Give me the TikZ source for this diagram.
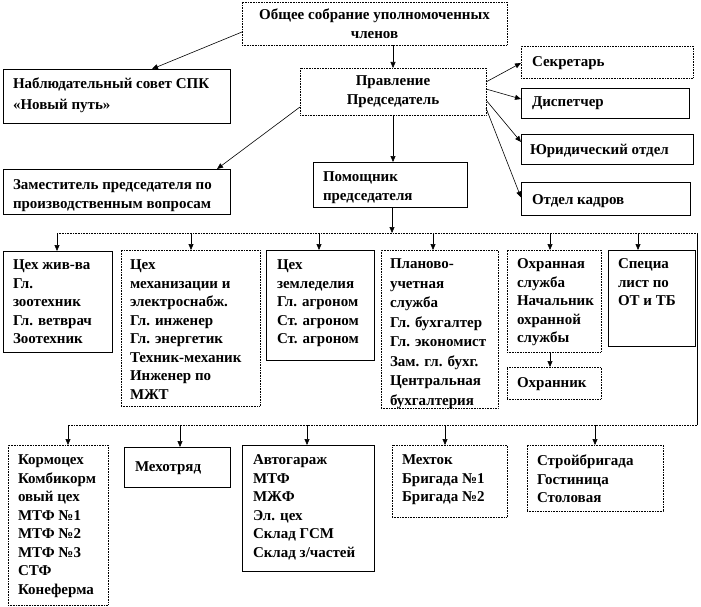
\documentclass[tikz,border=0pt]{standalone}
\usepackage{fontspec}
\setmainfont{Liberation Serif}
\usetikzlibrary{arrows.meta,calc}
\tikzset{
  bx/.style={draw=black, line width=0.6pt, inner sep=0pt, outer sep=0pt},
  dbx/.style={bx, densely dotted},
  txt/.style={inner sep=0pt, outer sep=0pt, align=left, anchor=north west, font=\fontsize{15}{18.5}\selectfont\bfseries},
  ctxt/.style={align=center, font=\fontsize{15}{18.5}\selectfont\bfseries},
  arr/.style={line width=0.6pt, -{Triangle[length=6pt,width=5pt]}},
  bus/.style={line width=0.6pt, densely dotted},
}
\newcommand\tbox[9][bx]{%
  \node[#1, anchor=north west, minimum width={(#5-#3)*1pt}, minimum height={(#6-#4)*1pt}] (#2) at (#3,#4) {};
  \node[txt] (#2-t) at (#7,#8) {#9};}
\begin{document}
\begin{tikzpicture}[x=1pt,y=-1pt]
\useasboundingbox (0,0) rectangle (701,607);
% top
\node[dbx, ctxt, minimum width=265pt, minimum height=43pt] (obsh) at (374.5,23.5) {Общее собрание уполномоченных\\членов};
\node[dbx, ctxt, minimum width=186pt, minimum height=47pt] (prav) at (393,91.5) {Правление\\Председатель};
\tbox{nabl}{3}{69}{230}{123}{13}{78}{Наблюдательный совет СПК\\[2pt]«Новый путь»}
\tbox{zam}{3}{169}{230}{214}{13}{180}{Заместитель председателя по\\производственным вопросам}
\tbox{pom}{313}{162}{467}{207}{323}{172}{Помощник\\председателя}
\tbox[dbx]{sekr}{521}{46}{693}{78}{532}{57}{Секретарь}
\tbox{disp}{521}{88}{689}{118}{532}{97}{Диспетчер}
\tbox{jur}{521}{134}{693}{164}{530}{144}{Юридический отдел}
\tbox{kadr}{521}{182}{690}{215}{532}{195}{Отдел кадров}
% row 1
\tbox{zhiv}{3}{251}{112}{352}{13}{260}{Цех жив-ва\\Гл.\\зоотехник\\Гл. ветврач\\Зоотехник}
\tbox[dbx]{meh}{121}{250}{260}{406}{130}{260}{Цех\\механизации и\\электроснабж.\\Гл. инженер\\Гл. энергетик\\Техник-механик\\Инженер по\\МЖТ}
\tbox{zeml}{266}{250}{374}{360}{277}{260}{Цех\\земледелия\\Гл. агроном\\Ст. агроном\\Ст. агроном}
\tbox[dbx]{plan}{381}{250}{498}{408}{390}{259}{Планово-\\[1pt]учетная\\[1pt]служба\\[1pt]Гл. бухгалтер\\[1pt]Гл. экономист\\[1pt]Зам. гл. бухг.\\[1pt]Центральная\\[1pt]бухгалтерия}
\tbox[dbx]{ohr}{507}{250}{601}{352}{517}{259}{Охранная\\служба\\Начальник\\охранной\\службы}
\tbox[dbx]{ohrn}{507}{367}{601}{399}{517}{378}{Охранник}
\tbox{spec}{608}{250}{695}{346}{618}{259}{Специа\\лист по\\ОТ и ТБ}
% row 2
\tbox[dbx]{korm}{8}{445}{108}{605}{18}{455}{Кормоцех\\Комбикорм\\овый цех\\МТФ №1\\МТФ №2\\МТФ №3\\СТФ\\Конеферма}
\tbox{mehotr}{124}{447}{230}{487}{135}{462}{Мехотряд}
\tbox{avto}{242}{445}{374}{571}{253}{455}{Автогараж\\МТФ\\МЖФ\\Эл. цех\\Склад ГСМ\\Склад з/частей}
\tbox[dbx]{mehtok}{392}{445}{507}{517}{402}{455}{Мехток\\Бригада №1\\Бригада №2}
\tbox[dbx]{stroy}{527}{445}{663}{511}{537}{455}{Стройбригада\\Гостиница\\Столовая}
% buses
\coordinate (b1L) at (57,233);
\coordinate (b1R) at (697,233);
\coordinate (b2R) at (697,425);
\coordinate (b2L) at (68,425);
\coordinate (pb) at (392,233);
\draw[bus] (b1L) -- (b1R);
\draw[line width=0.6pt] (b1R) -- (b2R);
\draw[bus] (b2R) -- (b2L);
\coordinate (d2) at (191,233);
\coordinate (d3) at (319,233);
\coordinate (d4) at (433,233);
\coordinate (d5) at (550,233);
\coordinate (d6) at (638,233);
\coordinate (e2) at (180,425);
\coordinate (e3) at (307,425);
\coordinate (e4) at (445,425);
\coordinate (e5) at (595,425);
% arrows
\draw[arr] ([yshift=-8.5pt]obsh.west) -- ([xshift=35.5pt]nabl.north);
\draw[arr] (prav.north |- obsh.south) -- (prav.north);
\draw[arr] ([yshift=-15.5pt]prav.west) -- ([xshift=100.5pt]zam.north);
\draw[arr] (prav.south) -- (prav.south |- pom.north);
\draw[arr] (pom.south -| pb) -- (pb);
\draw[arr] ([yshift=9.5pt]prav.east) -- ([yshift=-1pt]sekr.west);
\draw[arr] ([yshift=2.5pt]prav.east) -- ([yshift=4pt]disp.west);
\draw[arr] ([yshift=-8.5pt]prav.east) -- ([yshift=7pt]jur.west);
\draw[arr] ([yshift=-16.5pt]prav.east) -- ([yshift=1pt]kadr.west);
\draw[arr] (b1L) -- (b1L |- zhiv.north);
\draw[arr] (d2) -- (d2 |- meh.north);
\draw[arr] (d3) -- (d3 |- zeml.north);
\draw[arr] (d4) -- (d4 |- plan.north);
\draw[arr] (d5) -- (d5 |- ohr.north);
\draw[arr] (d6) -- (d6 |- spec.north);
\draw[arr] (d5 |- ohr.south) -- (d5 |- ohrn.north);
\draw[arr] (b2L) -- (b2L |- korm.north);
\draw[arr] (e2) -- (e2 |- mehotr.north);
\draw[arr] (e3) -- (e3 |- avto.north);
\draw[arr] (e4) -- (e4 |- mehtok.north);
\draw[arr] (e5) -- (e5 |- stroy.north);
\end{tikzpicture}
\end{document}
